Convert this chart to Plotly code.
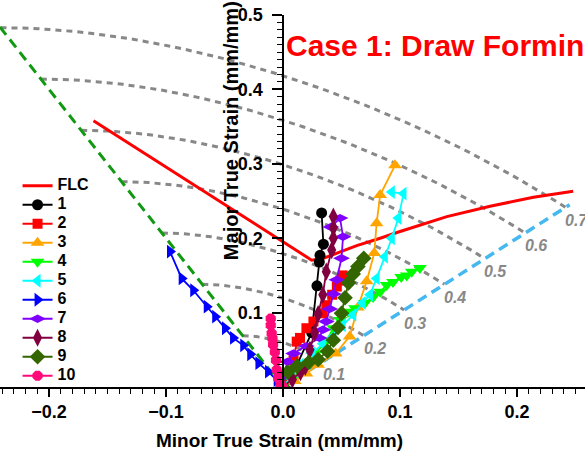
import numpy as np
import plotly.graph_objects as go

# ---- forming limit curve ----
flc_minor = [-0.162, 0.0245, 0.0345, 0.063, 0.083, 0.100, 0.140, 0.177, 0.214, 0.248]
flc_major = [0.358, 0.1705, 0.173, 0.190, 0.200, 0.209, 0.229, 0.243, 0.255, 0.263]

# ---- measured strain paths (minor, major) ----
s1_minor = [0.0, 0.005, 0.012, 0.0245, 0.029, 0.031, 0.0316, 0.0345, 0.033]
s1_major = [0.0, 0.012, 0.030, 0.073, 0.136, 0.168, 0.177, 0.192, 0.234]

s2_minor = [0.0, 0.003, 0.006, 0.009, 0.0117, 0.0145, 0.020, 0.026, 0.034, 0.037, 0.042, 0.046, 0.049, 0.051]
s2_major = [0.0, 0.010, 0.022, 0.036, 0.061, 0.066, 0.079, 0.088, 0.099, 0.110, 0.124, 0.135, 0.143, 0.150]

s3_minor = [0.0, 0.010, 0.020, 0.030, 0.045, 0.057, 0.064, 0.0715, 0.078, 0.080, 0.083, 0.0957]
s3_major = [0.0, 0.008, 0.018, 0.030, 0.045, 0.068, 0.107, 0.142, 0.180, 0.220, 0.258, 0.298]

s4_minor = [0.0, 0.008, 0.018, 0.028, 0.037, 0.043, 0.049, 0.0556, 0.0615, 0.070, 0.077, 0.083,
            0.0886, 0.094, 0.101, 0.1057, 0.110, 0.117]
s4_major = [0.0, 0.012, 0.028, 0.045, 0.062, 0.079, 0.090, 0.101, 0.106, 0.113, 0.121, 0.128,
            0.137, 0.141, 0.148, 0.150, 0.155, 0.160]

s5_minor = [0.0, 0.006, 0.015, 0.025, 0.034, 0.043, 0.051, 0.060, 0.068, 0.0744, 0.080, 0.087,
            0.093, 0.0986, 0.103, 0.093]
s5_major = [0.0, 0.012, 0.030, 0.045, 0.058, 0.068, 0.083, 0.097, 0.113, 0.124, 0.146, 0.175,
            0.200, 0.227, 0.260, 0.262]

s6_minor = [0.0, -0.0054, -0.0128, -0.021, -0.028, -0.034, -0.0427, -0.0496, -0.058, -0.0652,
            -0.0767, -0.0866, -0.0966]
s6_major = [0.0, 0.0094, 0.0206, 0.032, 0.044, 0.056, 0.066, 0.079, 0.0945, 0.108,
            0.130, 0.146, 0.182]

s7_minor = [0.0, 0.002, 0.004, 0.009, 0.020, 0.031, 0.034, 0.037, 0.040, 0.043, 0.046, 0.050,
            0.0513, 0.0487, 0.041]
s7_major = [0.0, 0.018, 0.034, 0.045, 0.055, 0.066, 0.077, 0.088, 0.105, 0.125, 0.144, 0.173,
            0.202, 0.227, 0.215]

s8_minor = [0.0, 0.008, 0.015, 0.019, 0.023, 0.027, 0.030, 0.034, 0.037, 0.0416, 0.043, 0.043, 0.043]
s8_major = [0.0, 0.010, 0.020, 0.027, 0.050, 0.073, 0.098, 0.124, 0.155, 0.184, 0.200, 0.214, 0.229]

s9_minor = [0.0, 0.004, 0.012, 0.022, 0.030, 0.038, 0.043, 0.047, 0.050, 0.053, 0.056, 0.060,
            0.064, 0.069]
s9_major = [0.0, 0.020, 0.028, 0.033, 0.037, 0.048, 0.063, 0.080, 0.099, 0.120, 0.140, 0.152,
            0.162, 0.173]

s10_minor = [0.0, -0.002, -0.004, -0.0054, -0.006, -0.007, -0.0085, -0.009, -0.0097, -0.0105, -0.0105]
s10_major = [0.0, 0.004, 0.012, 0.023, 0.036, 0.047, 0.057, 0.065, 0.072, 0.083, 0.092]

series_names = ["1", "2", "3", "4", "5", "6", "7", "8", "9", "10"]
series_minor = [s1_minor, s2_minor, s3_minor, s4_minor, s5_minor,
                s6_minor, s7_minor, s8_minor, s9_minor, s10_minor]
series_major = [s1_major, s2_major, s3_major, s4_major, s5_major,
                s6_major, s7_major, s8_major, s9_major, s10_major]

# ---- guide lines ----
uniaxial_minor = [0.0, -0.25]
uniaxial_major = [0.0, 0.5]
equibiaxial_minor = [0.0, 0.245]
equibiaxial_major = [0.0, 0.245]

# iso effective-strain contours, given by their major strain in uniaxial tension
contour_labels = ["0.1", "0.2", "0.3", "0.4", "0.5", "0.6", "0.7"]
contour_uniaxial_major = [0.069, 0.138, 0.207, 0.276, 0.345, 0.414, 0.483]

x_ticks = [-0.2, -0.1, 0.0, 0.1, 0.2]
y_ticks = [0.1, 0.2, 0.3, 0.4, 0.5]

# ---- styling ----
FONT = "Liberation Sans, Arial, sans-serif"
colors = ["#000000", "#FF0000", "#FFA500", "#00FF00", "#00FFFF",
          "#0000FF", "#8000FF", "#800040", "#336600", "#FF0A78"]
symbols = ["circle", "square", "triangle-up", "triangle-down", "triangle-left",
           "triangle-right", "diamond-wide", "diamond-tall", "diamond", "octagon"]
sizes = [11, 10, 12, 12, 12, 12, 12, 13, 12, 11]

X_RANGE = [-0.2419, 0.2581]
Y_RANGE = [0.0, 0.5]


def legend_label(text):
    return f'<span style="font-size:16px">{text}</span>'


fig = go.Figure()

# von Mises contours: e1^2 + e1*e2 + e2^2 = 3/4 * c^2, from uniaxial to equibiaxial
for c in contour_uniaxial_major:
    e2 = np.linspace(-c / 2, c / 2, 60)
    e1 = (-e2 + np.sqrt(3 * c ** 2 - 3 * e2 ** 2)) / 2
    fig.add_trace(go.Scatter(x=e2, y=e1, mode="lines", showlegend=False, hoverinfo="skip",
                             line=dict(color="#888888", width=3, dash="6px,5px")))

fig.add_trace(go.Scatter(x=uniaxial_minor, y=uniaxial_major, mode="lines", showlegend=False,
                         line=dict(color="#119911", width=3, dash="10px,6px")))
fig.add_trace(go.Scatter(x=equibiaxial_minor, y=equibiaxial_major, mode="lines", showlegend=False,
                         line=dict(color="#45B8F0", width=3.5, dash="10px,6px")))

fig.add_trace(go.Scatter(x=flc_minor, y=flc_major, mode="lines", name=legend_label("FLC"),
                         line=dict(color="#FF0000", width=3)))

for name, xs, ys, col, sym, sz in zip(series_names, series_minor, series_major,
                                      colors, symbols, sizes):
    fig.add_trace(go.Scatter(x=xs, y=ys, mode="lines+markers", name=legend_label(name),
                             line=dict(color=col, width=1.8),
                             marker=dict(color=col, symbol=sym, size=sz)))

# contour level labels next to the equibiaxial end of each contour
for lab, c in zip(contour_labels, contour_uniaxial_major):
    fig.add_annotation(x=c / 2, y=c / 2, text=lab, showarrow=False, xref="x", yref="y",
                       xshift=11, yshift=-13,
                       font=dict(family=FONT, size=16, color="#888888",
                                 weight="bold", style="italic"))

y_axis_pos = (0 - X_RANGE[0]) / (X_RANGE[1] - X_RANGE[0])

fig.add_annotation(text="Case 1: Draw Forming", xref="paper", yref="paper",
                   x=0.485, y=0.919, xanchor="left", yanchor="middle", showarrow=False,
                   font=dict(family=FONT, size=30, color="#FF0000", weight="bold"))
fig.add_annotation(text="Minor True Strain (mm/mm)", xref="paper", yref="paper",
                   x=0.477, y=-0.143, xanchor="center", yanchor="middle", showarrow=False,
                   font=dict(family=FONT, size=19, color="black", weight="bold"))
fig.add_annotation(text="Major True Strain (mm/mm)", xref="paper", yref="paper",
                   x=0.395, y=0.688, xanchor="center", yanchor="middle", showarrow=False,
                   textangle=-90,
                   font=dict(family=FONT, size=20, color="black", weight="bold"))

fig.update_layout(
    width=585, height=459,
    margin=dict(l=0, r=0, t=15, b=72),
    paper_bgcolor="white", plot_bgcolor="white",
    font=dict(family=FONT, color="black"),
    showlegend=True,
    legend=dict(x=0.03, y=0.58, xanchor="left", yanchor="top",
                bgcolor="rgba(0,0,0,0)", borderwidth=0,
                font=dict(family=FONT, size=12, color="black", weight="bold"),
                tracegroupgap=0),
    xaxis=dict(range=X_RANGE, showgrid=False, zeroline=False,
               showline=True, linecolor="black", linewidth=1.5,
               ticks="outside", ticklen=8, tickwidth=1.5, tickcolor="black",
               tickvals=x_ticks, tickformat=".1f",
               tickfont=dict(family=FONT, size=18, color="black", weight="bold"),
               minor=dict(dtick=0.01, tick0=0, ticks="outside", ticklen=5,
                          tickwidth=1, tickcolor="black", showgrid=False)),
    yaxis=dict(range=Y_RANGE, showgrid=False, zeroline=False,
               anchor="free", position=y_axis_pos,
               showline=True, linecolor="black", linewidth=1.5,
               ticks="outside", ticklen=10, tickwidth=1.5, tickcolor="black",
               tickvals=y_ticks, tickformat=".1f", ticklabelstandoff=6,
               tickfont=dict(family=FONT, size=18, color="black", weight="bold"),
               minor=dict(dtick=0.01, tick0=0, ticks="outside", ticklen=5,
                          tickwidth=1, tickcolor="black", showgrid=False)),
)

fig.write_html("out.html")
